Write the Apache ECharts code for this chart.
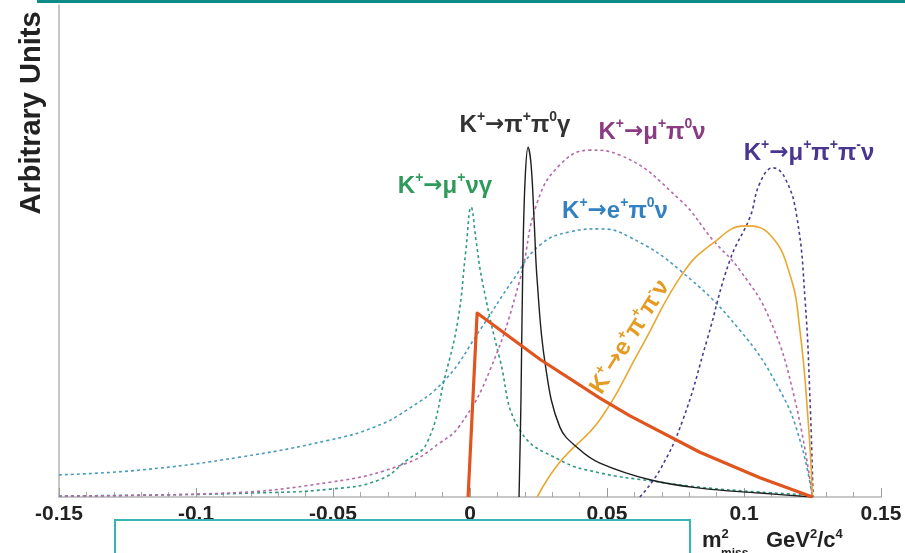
<!DOCTYPE html>
<html>
<head>
<meta charset="utf-8">
<script src="https://cdn.jsdelivr.net/npm/echarts@6/dist/echarts.min.js"></script>
<style>
  html, body { margin: 0; padding: 0; background: #ffffff; }
  #chart { width: 905px; height: 553px; }
</style>
</head>
<body>
<div id="chart"></div>
<script>
// Missing-mass-squared axis (GeV^2/c^4)
const xTicks = [-0.15, -0.1, -0.05, 0, 0.05, 0.1, 0.15];
const xTickLabels = ['-0.15', '-0.1', '-0.05', '0', '0.05', '0.1', '0.15'];

// K+ -> mu+ nu gamma
const muNuGammaX = [-0.150, -0.117, -0.080, -0.051, -0.033, -0.023, -0.0157, -0.0091, -0.0044, -0.0015, 0.0004, 0.0022, 0.0044, 0.0109, 0.0182, 0.0328, 0.0474, 0.0657, 0.0839, 0.1058, 0.1248];
const muNuGammaY = [0.2, 0.4, 0.8, 1.6, 3.5, 7.5, 11.0, 24.5, 36.0, 50.2, 58.9, 52.2, 44.1, 28.0, 13.6, 7.5, 4.9, 3.3, 2.0, 1.0, 0.4];

// K+ -> e+ pi0 nu
const ePi0NuX = [-0.150, -0.120, -0.084, -0.051, -0.035, -0.023, -0.0091, 0.0036, 0.0157, 0.0255, 0.0365, 0.0474, 0.0584, 0.0766, 0.0985, 0.1131, 0.1204, 0.1250];
const ePi0NuY = [4.5, 5.5, 8.1, 11.6, 14.2, 17.7, 23.8, 33.9, 44.1, 51.2, 53.9, 54.5, 52.8, 46.1, 33.9, 21.7, 11.6, 0];

// K+ -> mu+ pi0 nu
const muPi0NuX = [-0.150, -0.0985, -0.0511, -0.0230, -0.0110, -0.0036, 0.0073, 0.0182, 0.0245, 0.0328, 0.0438, 0.0547, 0.0766, 0.0887, 0.0985, 0.1095, 0.1186, 0.1250];
const muPi0NuY = [0.2, 0.6, 3.0, 6.9, 11.0, 14.6, 25.8, 44.1, 59.8, 67.5, 70.5, 69.5, 60.4, 52.2, 46.1, 36.0, 19.7, 0];

// K+ -> pi+ pi0 gamma
const piPi0GammaX = [0.0179, 0.0186, 0.0193, 0.0201, 0.0212, 0.0223, 0.0234, 0.0245, 0.0274, 0.0328, 0.0401, 0.0474, 0.0657, 0.0839, 0.1058, 0.1250];
const piPi0GammaY = [0, 19.7, 48.2, 64.4, 71.1, 67.5, 56.3, 44.1, 27.2, 14.2, 9.6, 6.9, 3.5, 1.8, 0.8, 0];

// K+ -> e+ pi+ pi- nu
const ePiPiNuX = [0.0245, 0.0328, 0.0474, 0.0620, 0.0777, 0.0887, 0.1004, 0.1095, 0.1168, 0.1204, 0.1234, 0.1250];
const ePiPiNuY = [0, 7.1, 15.7, 29.9, 45.5, 51.6, 55.1, 53.3, 45.1, 33.9, 15.6, 0];

// K+ -> mu+ pi+ pi- nu
const muPiPiNuX = [0.0620, 0.0693, 0.0777, 0.0865, 0.0949, 0.1022, 0.1058, 0.1106, 0.1150, 0.1193, 0.1223, 0.1241, 0.1252];
const muPiPiNuY = [0, 5.5, 15.7, 31.9, 48.2, 56.9, 63.8, 66.9, 64.8, 56.9, 40.0, 19.7, 0];

// signal shape (thick line)
const signalX = [-0.0007, 0.0026, 0.0255, 0.0474, 0.0584, 0.0839, 0.1058, 0.1250];
const signalY = [0, 37.4, 28.0, 20.1, 16.5, 9.1, 3.9, 0];

const FONT = '"Liberation Sans", Arial, Helvetica, sans-serif';
const ARROW_FONT = '"DejaVu Sans", sans-serif';

function pairs(xs, ys) { return xs.map((x, i) => [x, ys[i]]); }

function dottedSeries(name, xs, ys, color) {
  return {
    name, type: 'line', data: pairs(xs, ys),
    showSymbol: false, smooth: 0.45,
    lineStyle: { color, width: 1.6, type: [3, 3] },
    z: 2
  };
}

// rich-text styles for the decay labels
function decayRich(color) {
  return {
    a: { fontFamily: FONT, fontWeight: 'bold', fontSize: 24, lineHeight: 29, color },
    r: { fontFamily: ARROW_FONT, fontWeight: 'bold', fontSize: 23, lineHeight: 29, color },
    s: { fontFamily: FONT, fontWeight: 'bold', fontSize: 14, lineHeight: 14, verticalAlign: 'top', color }
  };
}

function decayLabel(text, color, x, y, rotationDeg) {
  return {
    type: 'text', x, y,
    rotation: (rotationDeg || 0) * Math.PI / 180,
    z: 10,
    style: {
      text, rich: decayRich(color), fill: color,
      align: 'center', verticalAlign: 'middle'
    }
  };
}

const chart = echarts.init(document.getElementById('chart'), null, { renderer: 'canvas' });

chart.setOption({
  animation: false,
  backgroundColor: '#ffffff',
  grid: { left: 59, right: 24, top: 5, bottom: 56, containLabel: false },
  xAxis: {
    type: 'value', min: -0.15, max: 0.15, interval: 0.05,
    axisLine: { show: true, onZero: false, lineStyle: { color: '#b5b5b5', width: 1.5 } },
    axisTick: { show: true, inside: true, length: 9, lineStyle: { color: '#9a9a9a', width: 1 } },
    minorTick: { show: true, splitNumber: 5, length: 5, lineStyle: { color: '#a8a8a8', width: 1 } },
    splitLine: { show: false },
    axisLabel: {
      margin: 7, color: '#222', fontFamily: FONT, fontWeight: 'bold', fontSize: 21,
      formatter: function (v) {
        let best = 0;
        xTicks.forEach((t, i) => { if (Math.abs(t - v) < Math.abs(xTicks[best] - v)) best = i; });
        return xTickLabels[best];
      }
    }
  },
  yAxis: {
    type: 'value', min: 0, max: 100,
    axisLine: { show: true, onZero: false, lineStyle: { color: '#b5b5b5', width: 1.5 } },
    axisTick: { show: false },
    axisLabel: { show: false },
    splitLine: { show: false }
  },
  series: [
    dottedSeries('K+→e+π0ν', ePi0NuX, ePi0NuY, '#4a9cbc'),
    dottedSeries('K+→μ+νγ', muNuGammaX, muNuGammaY, '#2f9a82'),
    dottedSeries('K+→μ+π0ν', muPi0NuX, muPi0NuY, '#b36aa8'),
    dottedSeries('K+→μ+π+π-ν', muPiPiNuX, muPiPiNuY, '#4d3a8c'),
    {
      name: 'K+→e+π+π-ν', type: 'line', data: pairs(ePiPiNuX, ePiPiNuY),
      showSymbol: false, smooth: 0.45,
      lineStyle: { color: '#e8a830', width: 1.6 }, z: 3
    },
    {
      name: 'K+→π+π0γ', type: 'line', data: pairs(piPi0GammaX, piPi0GammaY),
      showSymbol: false, smooth: 0.4,
      lineStyle: { color: '#1e1e1e', width: 1.4 }, z: 4
    },
    {
      name: 'signal', type: 'line', data: pairs(signalX, signalY),
      showSymbol: false, smooth: false,
      lineStyle: { color: '#e0541e', width: 3.2, join: 'round' }, z: 5
    }
  ],
  graphic: [
    // frame strokes around the figure
    { type: 'rect', shape: { x: 37, y: 0, width: 868, height: 3 }, style: { fill: '#0e8c88' }, z: 20 },
    { type: 'rect', shape: { x: 115, y: 520, width: 575, height: 45 }, style: { fill: 'none', stroke: '#35b5b5', lineWidth: 2 }, z: 20 },

    // y-axis title
    {
      type: 'text', x: 32, y: 113, rotation: Math.PI / 2, z: 10,
      style: { text: 'Arbitrary Units', fill: '#222', font: 'bold 29px ' + FONT, align: 'center', verticalAlign: 'middle' }
    },

    // x-axis title: m^2_miss GeV^2/c^4
    {
      type: 'text', x: 702, y: 541, z: 10,
      style: {
        text: '{b|m}{s|2}', align: 'left', verticalAlign: 'middle', fill: '#222',
        rich: {
          b: { fontFamily: FONT, fontWeight: 'bold', fontSize: 22, lineHeight: 26, color: '#222' },
          s: { fontFamily: FONT, fontWeight: 'bold', fontSize: 13, lineHeight: 13, verticalAlign: 'top', color: '#222' }
        }
      }
    },
    {
      type: 'text', x: 721, y: 554, z: 10,
      style: { text: 'miss', fill: '#222', font: 'bold 12px ' + FONT, align: 'left', verticalAlign: 'middle' }
    },
    {
      type: 'text', x: 766, y: 541, z: 10,
      style: {
        text: '{b|GeV}{s|2}{b|/c}{s|4}', align: 'left', verticalAlign: 'middle', fill: '#222',
        rich: {
          b: { fontFamily: FONT, fontWeight: 'bold', fontSize: 22, lineHeight: 26, color: '#222' },
          s: { fontFamily: FONT, fontWeight: 'bold', fontSize: 13, lineHeight: 13, verticalAlign: 'top', color: '#222' }
        }
      }
    },

    // decay-channel labels
    decayLabel('{a|K}{s|+}{r|→}{a|π}{s|+}{a|π}{s|0}{a|γ}', '#333333', 515, 125),
    decayLabel('{a|K}{s|+}{r|→}{a|μ}{s|+}{a|π}{s|0}{a|ν}', '#8a3b82', 652, 132),
    decayLabel('{a|K}{s|+}{r|→}{a|μ}{s|+}{a|νγ}', '#2f9a5c', 445, 186),
    decayLabel('{a|K}{s|+}{r|→}{a|e}{s|+}{a|π}{s|0}{a|ν}', '#3481c2', 615, 211),
    decayLabel('{a|K}{s|+}{r|→}{a|μ}{s|+}{a|π}{s|+}{a|π}{s|-}{a|ν}', '#4a3690', 809, 153),
    decayLabel('{a|K}{s|+}{r|→}{a|e}{s|+}{a|π}{s|+}{a|π}{s|-}{a|ν}', '#e59b22', 630, 337, 58)
  ]
});
</script>
</body>
</html>
